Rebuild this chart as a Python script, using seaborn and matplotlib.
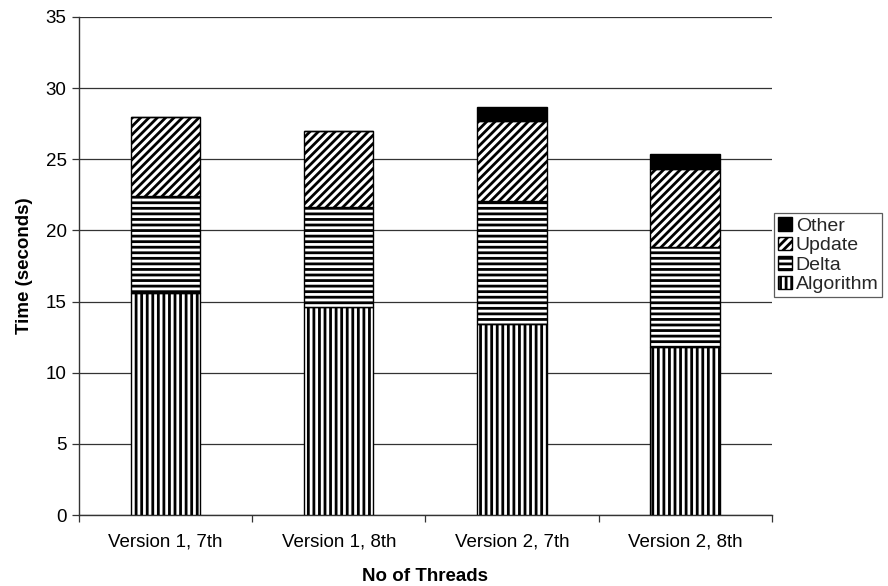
import matplotlib
matplotlib.use("Agg")
import matplotlib.pyplot as plt
from matplotlib.patches import Patch
from matplotlib.ticker import FixedLocator, MultipleLocator
import numpy as np
import pandas as pd
import seaborn as sns

# Run-time components per configuration (seconds)
configs = ["Version 1, 7th", "Version 1, 8th", "Version 2, 7th", "Version 2, 8th"]
algorithm = [15.6, 14.6, 13.4, 11.8]
delta = [6.8, 7.05, 8.65, 7.05]
update = [5.6, 5.35, 5.65, 5.45]
other = [0.0, 0.0, 0.95, 1.05]

components = ["Algorithm", "Delta", "Update", "Other"]
values = {"Algorithm": algorithm, "Delta": delta, "Update": update, "Other": other}
styles = {
    "Algorithm": dict(color="white", hatch="|||"),
    "Delta": dict(color="white", hatch="---"),
    "Update": dict(color="white", hatch="////"),
    "Other": dict(color="black", hatch=None),
}

sns.set_theme(style="white")
plt.rcParams["font.family"] = ["Liberation Sans", "DejaVu Sans"]
plt.rcParams["hatch.linewidth"] = 2.0
plt.rcParams["hatch.color"] = "black"

fig = plt.figure(figsize=(8.88, 5.86), dpi=100)
ax = fig.add_axes([0.089, 0.121, 0.780, 0.850])

bottom = np.zeros(len(configs))
for comp in components:
    df = pd.DataFrame({"config": configs, "time": values[comp]})
    sns.barplot(data=df, x="config", y="time", order=configs, ax=ax,
                color=styles[comp]["color"], hatch=styles[comp]["hatch"],
                edgecolor="black", linewidth=1.0, width=0.4,
                bottom=bottom, saturation=1, errorbar=None, zorder=3)
    bottom = bottom + np.array(values[comp])

ax.set_xlim(-0.5, len(configs) - 0.5)
ax.set_ylim(0, 35)
ax.yaxis.set_major_locator(MultipleLocator(5))
ax.grid(axis="y", color="#333333", linewidth=0.9, zorder=0)
ax.set_axisbelow(True)

for side in ["top", "right"]:
    ax.spines[side].set_visible(False)
for side in ["left", "bottom"]:
    ax.spines[side].set_color("#333333")
    ax.spines[side].set_linewidth(1.0)

# category separators as minor ticks on the x axis
ax.xaxis.set_minor_locator(FixedLocator(np.arange(-0.5, len(configs), 1.0)))
ax.tick_params(axis="x", which="major", length=0, pad=13, labelsize=13.5, colors="black")
ax.tick_params(axis="x", which="minor", bottom=True, length=5, width=0.9, color="#333333")
ax.tick_params(axis="y", which="major", left=True, length=5, width=0.9, color="#333333",
               pad=4, labelsize=13.5, labelcolor="black")

ax.set_xlabel("No of Threads", fontsize=13.5, fontweight="bold", labelpad=13, color="black")
ax.set_ylabel("Time (seconds)", fontsize=13.5, fontweight="bold", labelpad=9, color="black")

handles = [Patch(facecolor=styles[c]["color"], hatch=styles[c]["hatch"],
                 edgecolor="black", linewidth=1.0, label=c)
           for c in reversed(components)]
leg = ax.legend(handles=handles, loc="center left", bbox_to_anchor=(1.004, 0.522),
                frameon=True, fancybox=False, fontsize=14, handlelength=0.7,
                handleheight=0.7, handletextpad=0.2, labelspacing=0.1,
                borderpad=0.2, borderaxespad=0.0)
leg.get_frame().set_edgecolor("#333333")
leg.get_frame().set_linewidth(0.9)

fig.savefig("out.png", dpi=100, facecolor="white")
